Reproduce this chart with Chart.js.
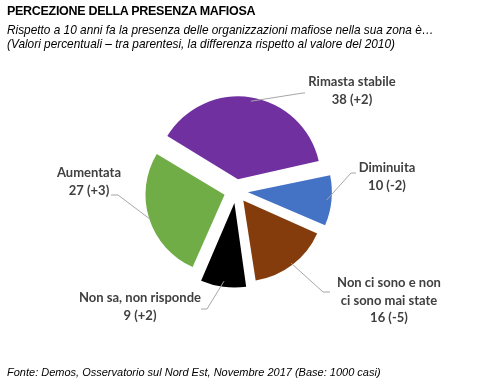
<!DOCTYPE html>
<html><head><meta charset="utf-8">
<script src="https://cdn.jsdelivr.net/npm/chart.js@4/dist/chart.umd.min.js"></script>
<style>
html,body{margin:0;padding:0;background:#fff;}
#wrap{position:relative;width:478px;height:381px;overflow:hidden;}
#c{position:absolute;left:0;top:0;}
.t{position:absolute;left:7px;white-space:nowrap;color:#000;font-family:"Liberation Sans",Arial,sans-serif;}
#title{top:4px;font-weight:bold;font-size:12.5px;letter-spacing:-0.3px;}
#sub{top:23px;font-style:italic;font-size:11.85px;line-height:14px;}
#src{top:366px;font-style:italic;font-size:11px;}
</style></head>
<body><div id="wrap">
<canvas id="c" width="478" height="381"></canvas>
<div class="t" id="title">PERCEZIONE DELLA  PRESENZA MAFIOSA</div>
<div class="t" id="sub">Rispetto a 10 anni fa la presenza delle organizzazioni mafiose nella sua zona è…<br>(Valori percentuali – tra parentesi, la differenza rispetto al valore del 2010)</div>
<div class="t" id="src">Fonte: Demos, Osservatorio sul Nord Est, Novembre 2017 (Base: 1000 casi)</div>
</div>
<script>
const categories = [['Rimasta stabile'], ['Diminuita'], ['Non ci sono e non', 'ci sono mai state'], ['Non sa, non risponde'], ['Aumentata']];
const values = [38, 10, 16, 9, 27];
const diffs = ['+2', '-2', '-5', '+2', '+3'];
const colors = ['#7030A0', '#4472C4', '#843C0C', '#000000', '#70AD47'];

const labelPlugin = {
  id: 'sliceLabels',
  afterDatasetsDraw(chart, args, opts) {
    const ctx = chart.ctx;
    const meta = chart.getDatasetMeta(0);
    ctx.save();
    meta.data.forEach((arc, i) => {
      const p = arc.getProps(['x', 'y', 'startAngle', 'endAngle', 'outerRadius'], true);
      const mid = (p.startAngle + p.endAngle) / 2;
      const shift = (arc.options.offset || 0) / 4;
      const r = p.outerRadius + shift;
      const sx = p.x + Math.cos(mid) * r, sy = p.y + Math.sin(mid) * r;
      const L = opts.layout[i];
      ctx.strokeStyle = '#A6A6A6';
      ctx.lineWidth = 1;
      ctx.beginPath();
      ctx.moveTo(sx, sy);
      ctx.lineTo(L.ex, L.ey);
      ctx.lineTo(L.hx, L.ey);
      ctx.stroke();
      const lines = categories[i].concat([values[i] + ' (' + diffs[i] + ')']);
      ctx.fillStyle = '#404040';
      ctx.font = 'bold 13px Lato, "Noto Sans", sans-serif';
      ctx.textAlign = 'center';
      ctx.textBaseline = 'middle';
      lines.forEach((t, k) => ctx.fillText(t, L.x, L.y + k * 17.5));
    });
    ctx.restore();
  }
};

new Chart(document.getElementById('c'), {
  type: 'pie',
  data: {
    labels: categories.map(c => c.join(' ')),
    datasets: [{
      data: values,
      backgroundColor: colors,
      borderWidth: 0,
      offset: 48
    }]
  },
  options: {
    responsive: false,
    animation: false,
    rotation: -59,
    radius: 79,
    layout: { padding: { left: 136, right: 142, top: 91, bottom: 90 } },
    plugins: {
      legend: { display: false },
      tooltip: { enabled: false },
      sliceLabels: {
        layout: [
          { x: 352, y: 82, ex: 303, ey: 93, hx: 305 },
          { x: 387, y: 168, ex: 351, ey: 173, hx: 356 },
          { x: 389, y: 283, ex: 323, ey: 292, hx: 330 },
          { x: 140, y: 298, ex: 207, ey: 309, hx: 201 },
          { x: 89, y: 173, ex: 118, ey: 195, hx: 111 }
        ]
      }
    }
  },
  plugins: [labelPlugin]
});
</script>
</body></html>
